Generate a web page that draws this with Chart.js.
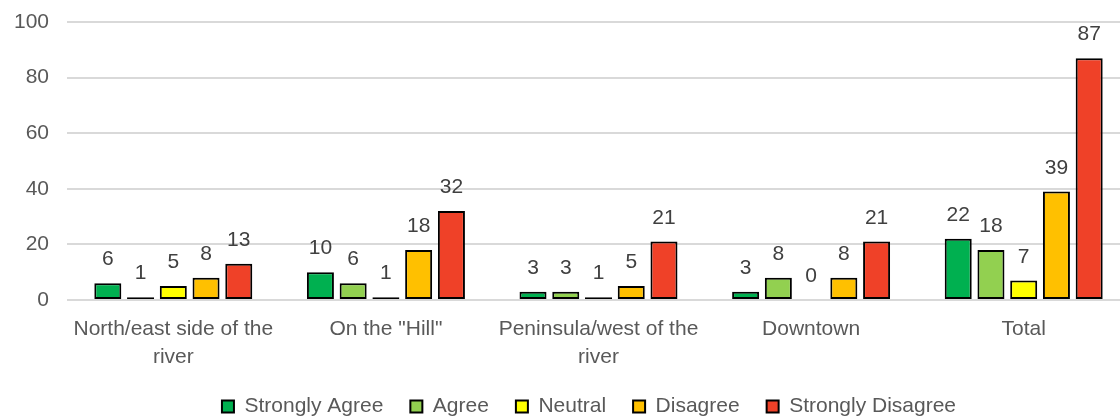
<!DOCTYPE html>
<html>
<head>
<meta charset="utf-8">
<script src="https://cdn.jsdelivr.net/npm/chart.js@4"></script>
<style>
  html, body { margin: 0; padding: 0; background: #fff; overflow: hidden; }
  #wrap { width: 1120px; height: 417px; overflow: hidden; }
</style>
</head>
<body>
<!-- plot area runs a little past the right edge in the original, so the canvas is wider than the window -->
<div id="wrap"><canvas id="chart" width="1130" height="417"></canvas></div>
<script>
const categories = [
    ['North/east side of the', 'river'],
    'On the "Hill"',
    ['Peninsula/west of the', 'river'],
    'Downtown',
    'Total'
];
const stronglyAgree = [6, 10, 3, 3, 22];
const agree = [1, 6, 3, 8, 18];
const neutral = [5, 1, 1, 0, 7];
const disagree = [8, 18, 5, 8, 39];
const stronglyDisagree = [13, 32, 21, 21, 87];
const yTicks = [0, 20, 40, 60, 80, 100];

const FONT = '"Liberation Sans", Arial, sans-serif';

// value labels above each bar
const barLabels = {
    id: 'barLabels',
    afterDatasetsDraw(chart) {
        const ctx = chart.ctx;
        ctx.save();
        ctx.font = '21px ' + FONT;
        ctx.fillStyle = '#404040';
        ctx.textAlign = 'center';
        ctx.textBaseline = 'alphabetic';
        chart.data.datasets.forEach((ds, i) => {
            chart.getDatasetMeta(i).data.forEach((bar, j) => {
                ctx.fillText(ds.data[j], bar.x, bar.y - 18);
            });
        });
        ctx.restore();
    }
};

// nudge legend to where it sits in the original
const legendShift = {
    id: 'legendShift',
    afterLayout(chart) {
        const lg = chart.legend;
        lg.left += 24;
        lg.right += 24;
        lg.top -= 24;
        lg.bottom -= 24;
    }
};

function makeSet(label, data, color) {
    return {
        label: label,
        data: data,
        backgroundColor: color,
        borderColor: '#000',
        borderWidth: 2,
        borderSkipped: false,
        categoryPercentage: 0.77,
        barPercentage: 0.825
    };
}

new Chart(document.getElementById('chart').getContext('2d'), {
    type: 'bar',
    data: {
        labels: categories,
        datasets: [
            makeSet('Strongly Agree', stronglyAgree, '#00B050'),
            makeSet('Agree', agree, '#92D050'),
            makeSet('Neutral', neutral, '#FFFF00'),
            makeSet('Disagree', disagree, '#FFC000'),
            makeSet('Strongly Disagree', stronglyDisagree, '#EF4128')
        ]
    },
    options: {
        responsive: false,
        animation: false,
        layout: { padding: { top: 22, right: 0, left: 0, bottom: -34 } },
        plugins: {
            legend: {
                position: 'bottom',
                labels: {
                    boxWidth: 12,
                    boxHeight: 12,
                    padding: 27,
                    color: '#595959',
                    font: { family: FONT, size: 21 }
                }
            },
            tooltip: { enabled: false }
        },
        scales: {
            x: {
                grid: { display: false, drawTicks: false },
                border: { display: false },
                ticks: {
                    color: '#595959',
                    padding: 15,
                    maxRotation: 0,
                    autoSkip: false,
                    font: { family: FONT, size: 21, lineHeight: 1.33 }
                },
                afterFit: scale => {
                    scale.height = 93;
                    scale.paddingLeft = 0;
                    scale.paddingRight = 0;
                }
            },
            y: {
                min: 0,
                max: 100,
                afterBuildTicks: scale => { scale.ticks = yTicks.map(v => ({ value: v })); },
                grid: { color: '#D9D9D9', lineWidth: 2, drawTicks: false },
                border: { display: false },
                ticks: {
                    color: '#595959',
                    padding: 18,
                    font: { family: FONT, size: 21 }
                },
                afterFit: scale => {
                    scale.width = 67;
                    scale.paddingTop = 10;
                    scale.paddingBottom = 10;
                }
            }
        }
    },
    plugins: [barLabels, legendShift]
});
</script>
</body>
</html>
